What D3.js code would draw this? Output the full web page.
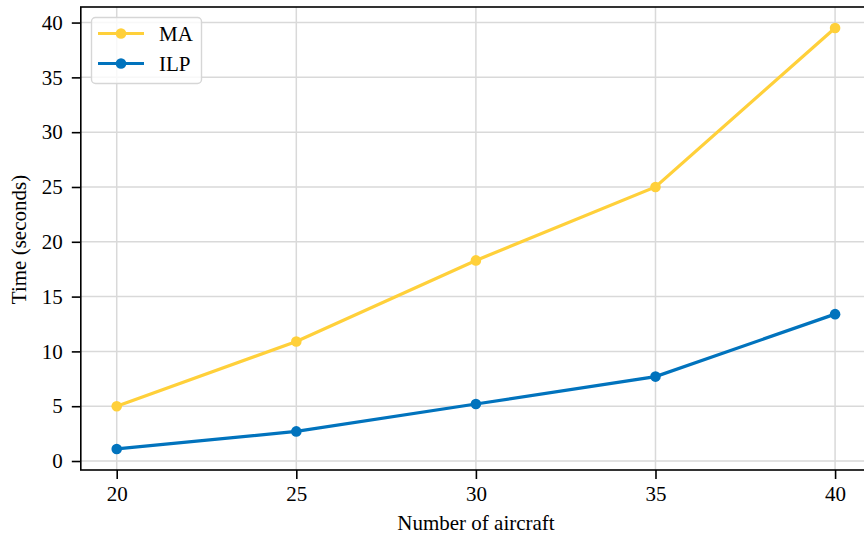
<!DOCTYPE html>
<html><head><meta charset="utf-8">
<script src="https://cdn.jsdelivr.net/npm/d3@7"></script>
<style>body{margin:0;background:#fff;} svg{display:block;} text{font-family:'Liberation Serif','Times New Roman',serif;}</style>
</head><body>
<svg id="c" width="864" height="540"></svg>
<script>
const aircraft = [20, 25, 30, 35, 40];
const maTimes = [5.0, 10.9, 18.3, 25.0, 39.5];
const ilpTimes = [1.1, 2.7, 5.2, 7.7, 13.4];
const seriesNames = ["MA", "ILP"];
const seriesColors = ["#FFD03A", "#0173BD"];
const xTicks = [20, 25, 30, 35, 40];
const yTicks = [0, 5, 10, 15, 20, 25, 30, 35, 40];

const svg = d3.select("#c");
const font = "'Liberation Serif','Times New Roman',serif";
const L = 80.8, R = 871, T = 7, B = 470;
const x = d3.scaleLinear().domain([19, 41]).range([L, R]);
const y = d3.scaleLinear().domain([-0.82, 41.42]).range([B, T]);

svg.append("clipPath").attr("id","pc").append("rect")
  .attr("x", L).attr("y", T).attr("width", R - L).attr("height", B - T);

// grid
const g = svg.append("g");
g.selectAll("line.gx").data(xTicks).join("line")
  .attr("x1", d => x(d)).attr("x2", d => x(d)).attr("y1", T).attr("y2", B)
  .attr("stroke", "#d9d9d9").attr("stroke-width", 1.5);
g.selectAll("line.gy").data(yTicks).join("line")
  .attr("y1", d => y(d)).attr("y2", d => y(d)).attr("x1", L).attr("x2", R)
  .attr("stroke", "#d9d9d9").attr("stroke-width", 1.5);

// series
const series = [maTimes, ilpTimes];
const line = d3.line().x((d, i) => x(aircraft[i])).y(d => y(d));
series.forEach((s, k) => {
  const sg = svg.append("g").attr("clip-path", "url(#pc)");
  sg.append("path").attr("d", line(s)).attr("fill", "none")
    .attr("stroke", seriesColors[k]).attr("stroke-width", 3.2);
  sg.selectAll("circle").data(s).join("circle")
    .attr("cx", (d, i) => x(aircraft[i])).attr("cy", d => y(d)).attr("r", 5.3)
    .attr("fill", seriesColors[k]);
});

// axes
const xAxis = d3.axisBottom(x).tickValues(xTicks).tickSize(9).tickPadding(7);
const yAxis = d3.axisLeft(y).tickValues(yTicks).tickSize(9).tickPadding(9);
const ax = svg.append("g").attr("transform", `translate(0,${B})`).call(xAxis);
const ay = svg.append("g").attr("transform", `translate(${L},0)`).call(yAxis);
[ax, ay].forEach(a => {
  a.attr("font-family", null);
  a.select(".domain").remove();
  a.selectAll(".tick line").attr("stroke", "#000").attr("stroke-width", 1.6);
  a.selectAll(".tick text").style("font-family", font).style("font-size", "21px").attr("fill", "#000");
});
// spines
svg.append("rect").attr("x", L).attr("y", T).attr("width", R - L).attr("height", B - T)
  .attr("fill", "none").attr("stroke", "#000").attr("stroke-width", 1.6);

// labels
svg.append("text").attr("x", 476).attr("y", 530).attr("text-anchor", "middle")
  .style("font-family", font).style("font-size", "21px").text("Number of aircraft");
svg.append("text").attr("transform", `translate(26,${(T + B) / 2 + 1}) rotate(-90)`)
  .attr("text-anchor", "middle").style("font-family", font).style("font-size", "21px").text("Time (seconds)");

// legend
const lg = svg.append("g");
lg.append("rect").attr("x", 91.5).attr("y", 17.5).attr("width", 110).attr("height", 66).attr("rx", 4)
  .attr("fill", "#fff").attr("fill-opacity", 0.8).attr("stroke", "#d6d6d6").attr("stroke-width", 1.4);
seriesNames.forEach((n, k) => {
  const yy = 33.5 + k * 30;
  lg.append("line").attr("x1", 98).attr("x2", 144).attr("y1", yy).attr("y2", yy)
    .attr("stroke", seriesColors[k]).attr("stroke-width", 3.2);
  lg.append("circle").attr("cx", 121).attr("cy", yy).attr("r", 5.3).attr("fill", seriesColors[k]);
  lg.append("text").attr("x", 159).attr("y", yy + 7).style("font-family", font).style("font-size", "21px").text(n);
});
</script>
</body></html>
